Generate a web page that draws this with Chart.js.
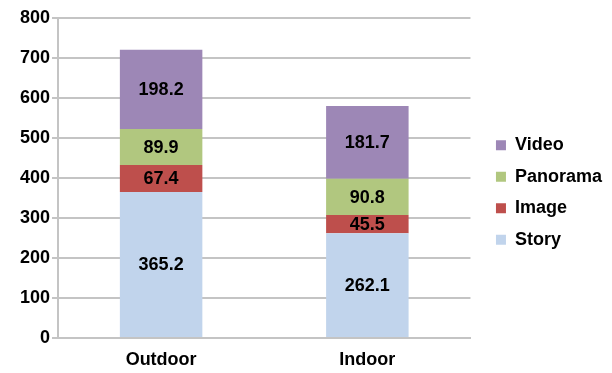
<!DOCTYPE html>
<html>
<head>
<meta charset="utf-8">
<script src="https://cdn.jsdelivr.net/npm/chart.js@4.4.1/dist/chart.umd.min.js"></script>
<style>
  html, body { margin: 0; padding: 0; background: #fff; }
  #wrap { width: 612px; height: 373px; }
</style>
</head>
<body>
<div id="wrap"><canvas id="barChart"></canvas></div>
<script>
// Datos del gráfico
const categories = ['Outdoor', 'Indoor'];
const seriesNames = ['Story', 'Image', 'Panorama', 'Video'];
const storyValues = [365.2, 262.1];
const imageValues = [67.4, 45.5];
const panoramaValues = [89.9, 90.8];
const videoValues = [198.2, 181.7];
const yMin = 0;
const yMax = 800;
const yStep = 100;

const seriesColors = ['#C1D4EC', '#BE4F4C', '#B1C77F', '#9D87B6'];
const fontFamily = '"Liberation Sans", Arial, sans-serif';
const gridColor = '#C4C4C4';

// Etiquetas de valor dentro de cada segmento
const barLabels = {
    id: 'barLabels',
    afterDatasetsDraw(chart) {
        const ctx = chart.ctx;
        ctx.save();
        ctx.font = 'bold 18px ' + fontFamily;
        ctx.fillStyle = '#000';
        ctx.textAlign = 'center';
        ctx.textBaseline = 'middle';
        chart.data.datasets.forEach((ds, i) => {
            chart.getDatasetMeta(i).data.forEach((bar, j) => {
                const c = bar.getCenterPoint();
                ctx.fillText(ds.data[j].toFixed(1), c.x, c.y + 1);
            });
        });
        ctx.restore();
    }
};

const allValues = [storyValues, imageValues, panoramaValues, videoValues];

const barCtx = document.getElementById('barChart').getContext('2d');
const barChart = new Chart(barCtx, {
    type: 'bar',
    data: {
        labels: categories,
        datasets: seriesNames.map((name, i) => ({
            label: name,
            data: allValues[i],
            backgroundColor: seriesColors[i],
            borderWidth: 0,
            barPercentage: 0.4,
            categoryPercentage: 1
        }))
    },
    options: {
        responsive: true,
        maintainAspectRatio: false,
        animation: false,
        layout: {
            padding: { top: 18, right: 0, bottom: 6, left: 0 }
        },
        plugins: {
            legend: {
                position: 'right',
                reverse: true,
                labels: {
                    boxWidth: 10,
                    boxHeight: 10,
                    padding: 13.5,
                    color: '#000',
                    font: { family: fontFamily, size: 18, weight: 'bold' }
                }
            },
            tooltip: { enabled: false }
        },
        scales: {
            x: {
                stacked: true,
                afterFit: (scale) => { scale.height = 29; },
                grid: { display: false, drawTicks: false },
                border: { color: gridColor, width: 2 },
                ticks: {
                    color: '#000',
                    padding: 11,
                    font: { family: fontFamily, size: 18, weight: 'bold' }
                }
            },
            y: {
                stacked: true,
                min: yMin,
                max: yMax,
                afterFit: (scale) => { scale.width = 58; },
                grid: { color: gridColor, lineWidth: 2, tickLength: 6 },
                border: { color: gridColor, width: 2 },
                ticks: {
                    stepSize: yStep,
                    color: '#000',
                    padding: 2,
                    font: { family: fontFamily, size: 18, weight: 'bold' }
                }
            },
            // Espacio vacío entre el área del gráfico y la leyenda
            spacer: {
                type: 'linear',
                position: 'right',
                display: false,
                afterFit: (scale) => { scale.width = 12; }
            }
        }
    },
    plugins: [barLabels]
});
</script>
</body>
</html>
